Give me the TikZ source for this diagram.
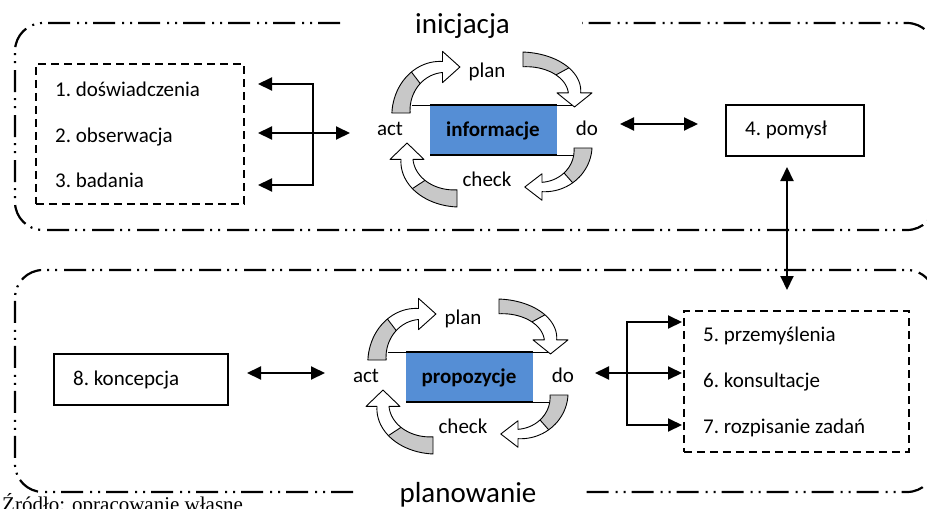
\documentclass[tikz,border=0pt]{standalone}
\usepackage{fontspec}
\setmainfont{Carlito}
\newfontfamily\srcfont{Liberation Serif}
\usetikzlibrary{arrows.meta}
\definecolor{boxblue}{RGB}{85,142,213}
\definecolor{arrgray}{RGB}{200,200,200}
\newcommand\bodyfont{\fontsize{21}{25}\selectfont\frenchspacing}
\newcommand\titlefont{\fontsize{29}{33}\selectfont}
% curved block arrow in a local unit frame: tail at (0,0) going up, head at (1,1) pointing right
\newcommand\cycarrow[1]{%
  \begin{scope}[#1]
    \fill[arrgray] plot[domain=180:130,samples=14] ({1+(1.12+0.1*(\x-90)/90)*cos(\x)},{(1.12+0.1*(\x-90)/90)*sin(\x)})
      -- plot[domain=130:180,samples=14] ({1+(0.88-0.1*(\x-90)/90)*cos(\x)},{(0.88-0.1*(\x-90)/90)*sin(\x)}) -- cycle;
    \fill[white] plot[domain=130:90,samples=12] ({1+(1.12+0.1*(\x-90)/90)*cos(\x)},{(1.12+0.1*(\x-90)/90)*sin(\x)})
      -- (1,1.34) -- (1.42,1) -- (1,0.66)
      -- plot[domain=90:130,samples=12] ({1+(0.88-0.1*(\x-90)/90)*cos(\x)},{(0.88-0.1*(\x-90)/90)*sin(\x)}) -- cycle;
    \draw[line width=0.9pt,line join=round] plot[domain=180:90,samples=24] ({1+(1.12+0.1*(\x-90)/90)*cos(\x)},{(1.12+0.1*(\x-90)/90)*sin(\x)})
      -- (1,1.34) -- (1.42,1) -- (1,0.66)
      -- plot[domain=90:180,samples=24] ({1+(0.88-0.1*(\x-90)/90)*cos(\x)},{(0.88-0.1*(\x-90)/90)*sin(\x)}) -- cycle;
    \draw[line width=0.9pt] ({1+(1.12+0.1*40/90)*cos(130)},{(1.12+0.1*40/90)*sin(130)})
      -- ({1+(0.88-0.1*40/90)*cos(130)},{(0.88-0.1*40/90)*sin(130)});
  \end{scope}}
\tikzset{
  dbl/.style={line width=2pt,line join=miter,
    {Triangle[length=14pt,width=13pt]}-{Triangle[length=14pt,width=13pt]}},
  dashbox/.style={draw,line width=1.8pt,dash pattern=on 8pt off 5pt,inner sep=0pt,anchor=north west},
  solidbox/.style={draw,line width=1.6pt,inner sep=0pt,anchor=north west},
  outerline/.style={line width=2.2pt,dash pattern=on 22pt off 6pt on 2pt off 6pt on 2pt off 7pt,rounded corners=28pt},
  txt/.style={anchor=base west,inner sep=0pt,font=\bodyfont},
  ctxt/.style={anchor=base,inner sep=0pt,font=\bodyfont},
  pics/pdca/.style={code={
    \fill[boxblue] (430,-105) rectangle (557,-155);
    \draw[line width=0.8pt] (412,-105) -- (575,-105);
    \draw[line width=2pt] (430,-105) -- (557,-105);
    \draw[line width=0.8pt] (430,-155) -- (575,-155);
    \draw[line width=2pt] (430,-155) -- (557,-155);
    \node[ctxt,font=\bodyfont\bfseries] (-box) at (493,-136) {#1};
    \node[ctxt] (-plan) at (487,-77) {plan};
    \node[ctxt] (-act) at (390,-135) {act};
    \node[ctxt] (-do) at (587,-135) {do};
    \node[ctxt] (-check) at (487,-186) {check};
    \cycarrow{shift={(401,-113)},xscale=41.5,yscale=46}
    \cycarrow{shift={(523,-59.4)},rotate=-90,xscale=33.5,yscale=51.5}
    \cycarrow{shift={(583,-148)},rotate=180,xscale=41,yscale=39}
    \cycarrow{shift={(457,-198.4)},rotate=90,xscale=39,yscale=50}
  }}
}
\begin{document}
\begin{tikzpicture}[x=1pt,y=1pt]
\useasboundingbox (0,0) rectangle (927,-509);
\clip (0,0) rectangle (927,-509);
% outer frames
\draw[outerline] (340,-23) -- (15,-23) -- (15,-230) -- (935,-230) -- (935,-23) -- (582,-23);
\draw[outerline] (353,-492) -- (15,-492) -- (15,-270) -- (935,-270) -- (935,-492) -- (581,-492);
\node[ctxt,font=\titlefont] (ini) at (462.5,-33) {inicjacja};
\node[ctxt,font=\titlefont] (plano) at (468,-502.5) {planowanie};
% boxes
\node[dashbox,minimum width=208pt,minimum height=140pt] (lbox) at (35,-63) {};
\node[solidbox,minimum width=138pt,minimum height=51pt] (pbox) at (725,-104) {};
\node[solidbox,minimum width=174pt,minimum height=51pt] (kbox) at (53,-353) {};
\node[dashbox,minimum width=225pt,minimum height=141pt] (rbox) at (683,-310) {};
% texts
\node[txt] (t1) at (55,-96) {1. doświadczenia};
\node[txt] (t2) at (55,-142) {2. obserwacja};
\node[txt] (t3) at (55,-187) {3. badania};
\node[txt] (t4) at (745,-135) {4. pomysł};
\node[txt] (t5) at (703,-341) {5. przemyślenia};
\node[txt] (t6) at (703,-387) {6. konsultacje};
\node[txt] (t7) at (703,-433) {7. rozpisanie zadań};
\node[txt] (t8) at (73,-385) {8. koncepcja};
% PDCA cycles
\pic (c1) at (0,0) {pdca=informacje};
\pic (c2) at (-24,-247) {pdca=propozycje};
% connectors top
\coordinate (lb1) at (258,-84);
\coordinate (lv1) at (313,-84);
\coordinate (lv3) at (313,-185);
\coordinate (lb3) at (258,-185);
\coordinate (lb2) at (258,-133);
\coordinate (lr2) at (350,-133);
\draw[dbl] (lb1) -- (lv1) -- (lv3) -- (lb3);
\draw[dbl] (lb2) -- (lr2);
\coordinate (dr1) at (620,-124);
\coordinate (pl1) at (698,-124);
\draw[dbl] (dr1) -- (pl1);
\coordinate (pv1) at (787,-167);
\coordinate (pv2) at (787,-290);
\draw[dbl] (pv1) -- (pv2);
% connectors bottom
\coordinate (kr) at (247,-373);
\coordinate (al) at (325,-373);
\draw[dbl] (kr) -- (al);
\coordinate (dr2) at (595,-373);
\coordinate (rb2) at (682,-373);
\draw[dbl] (dr2) -- (rb2);
\coordinate (rb1) at (682,-322);
\coordinate (rv1) at (627,-322);
\coordinate (rv3) at (627,-425);
\coordinate (rb3) at (682,-425);
\draw[dbl] (rb1) -- (rv1) -- (rv3) -- (rb3);
% source
\node[anchor=base west,inner sep=0pt,font=\srcfont\fontsize{21}{25}\selectfont] (src) at (2,-511) {Źródło: opracowanie własne};
\end{tikzpicture}
\end{document}
